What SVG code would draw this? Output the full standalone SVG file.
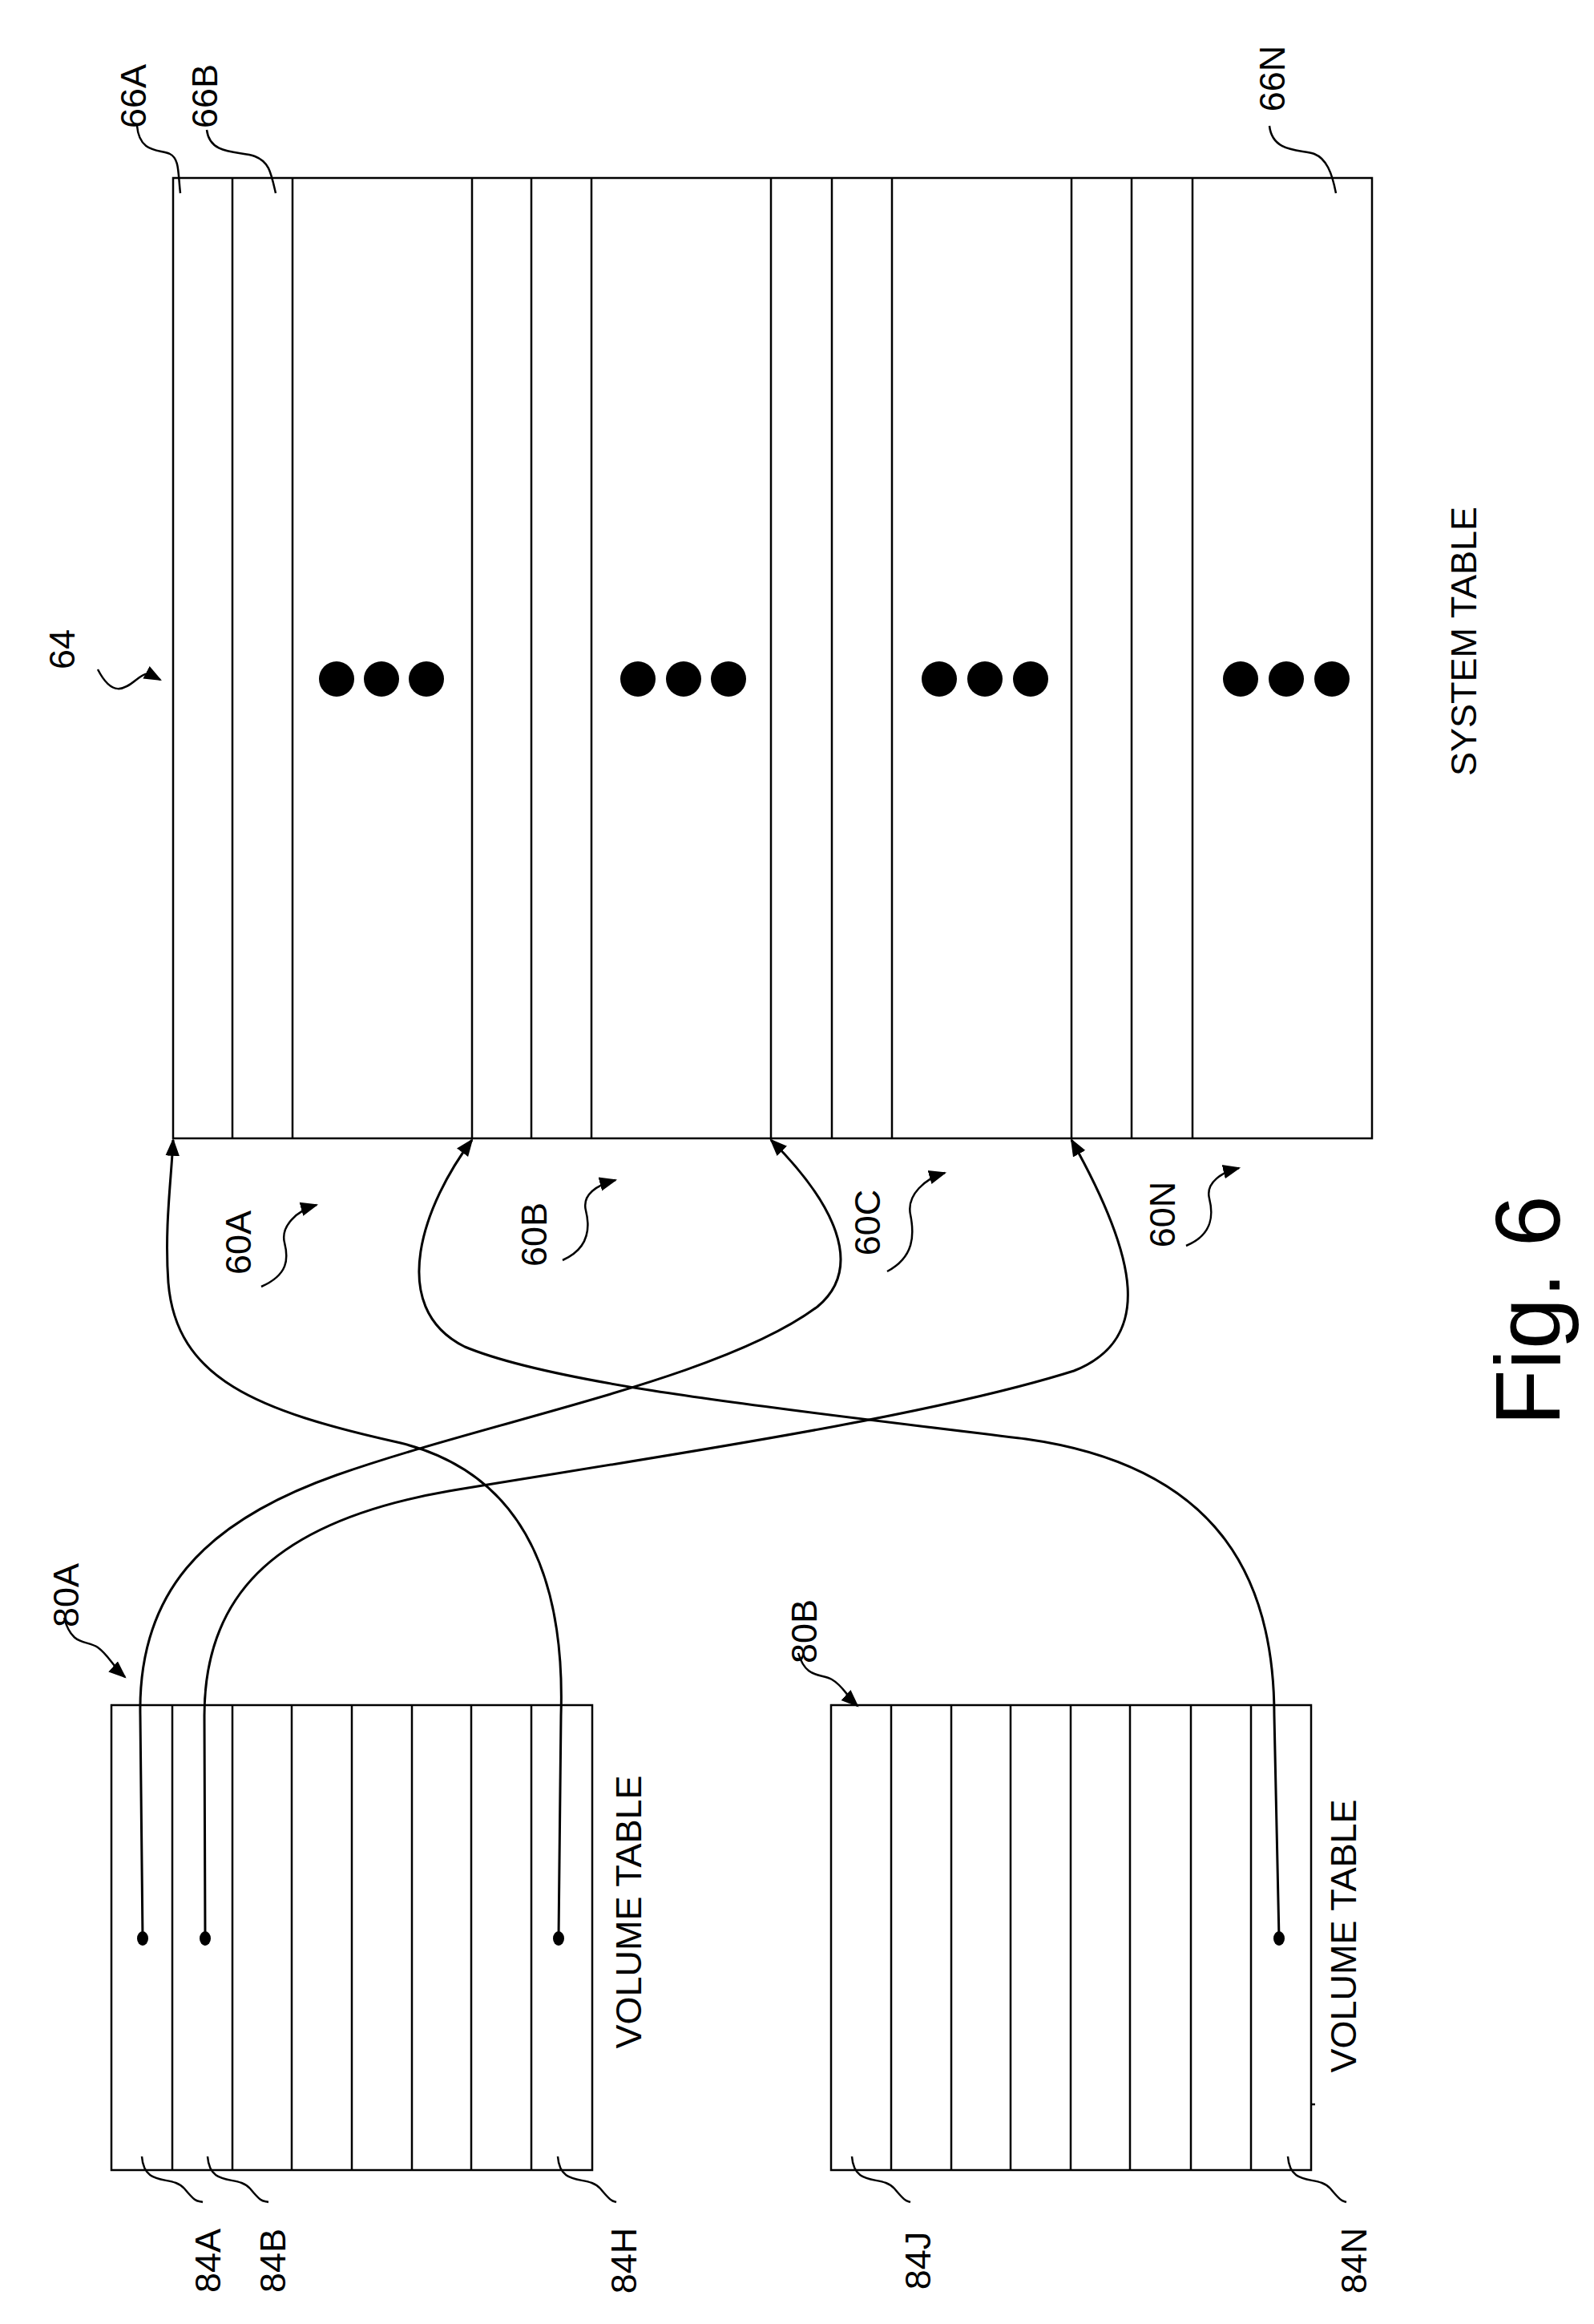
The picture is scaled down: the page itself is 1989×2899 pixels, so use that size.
<svg xmlns="http://www.w3.org/2000/svg" width="1989" height="2899" viewBox="0 0 1989 2899">
<style>
.ln{fill:none;stroke:#000;stroke-width:2.5}
.cv{fill:none;stroke:#000;stroke-width:3}
.t{font-family:"Liberation Sans",Arial,sans-serif;font-size:45px;fill:#000;text-anchor:middle;dominant-baseline:central}
.dot{fill:#000}
</style>
<defs>
<marker id="ah2" viewBox="0 0 10 10" refX="9" refY="5" markerWidth="22" markerHeight="22" markerUnits="userSpaceOnUse" orient="auto"><path d="M0,1L10,5L0,9z" fill="#000"/></marker>
</defs>
<rect width="1989" height="2899" fill="#fff"/>
<g id="system-table">
<rect class="ln" x="216" y="222" width="1496" height="1198"/>
<path class="ln" d="M290,222V1420M365,222V1420M589,222V1420M663,222V1420M738,222V1420M962,222V1420M1038,222V1420M1113,222V1420M1337,222V1420M1412,222V1420M1488,222V1420"/>
<g class="dot"><circle cx="420" cy="847" r="22"/><circle cx="476" cy="847" r="22"/><circle cx="532" cy="847" r="22"/><circle cx="796" cy="847" r="22"/><circle cx="853" cy="847" r="22"/><circle cx="909" cy="847" r="22"/><circle cx="1172" cy="847" r="22"/><circle cx="1229" cy="847" r="22"/><circle cx="1286" cy="847" r="22"/><circle cx="1548" cy="847" r="22"/><circle cx="1605" cy="847" r="22"/><circle cx="1662" cy="847" r="22"/></g>
<text class="t" transform="translate(1826,800) rotate(-90)">SYSTEM TABLE</text>
</g>
<g id="labels-66">
<text class="t" transform="translate(166,120) rotate(-90)">66A</text>
<text class="t" transform="translate(255,120) rotate(-90)">66B</text>
<text class="t" transform="translate(1587,98) rotate(-90)">66N</text>
<path class="ln" d="M171,157C174,192 200,186 212,192S222,215 225,241"/>
<path class="ln" d="M258,162C262,195 300,188 318,195S338,215 344,241"/>
<path class="ln" d="M1584,157C1588,192 1625,186 1640,192S1662,215 1667,241"/>
<text class="t" transform="translate(77,810) rotate(-90)">64</text>
<path class="ln" marker-end="url(#ah2)" d="M122,835C140,870 155,860 170,848S185,840 200,848"/>
</g>
<g id="volume-table-80A">
<rect class="ln" x="139" y="2127" width="600" height="580"/>
<path class="ln" d="M215,2127V2707M290,2127V2707M364,2127V2707M439,2127V2707M514,2127V2707M588,2127V2707M663,2127V2707"/>
<text class="t" transform="translate(784,2385) rotate(-90)">VOLUME TABLE</text>
<text class="t" transform="translate(82,1990) rotate(-90)">80A</text>
<path class="ln" marker-end="url(#ah2)" d="M80,2018C90,2055 108,2045 122,2055S140,2078 156,2092"/>
</g>
<g id="volume-table-80B">
<rect class="ln" x="1037" y="2127" width="599" height="580"/>
<path class="ln" d="M1112,2127V2707M1187,2127V2707M1261,2127V2707M1336,2127V2707M1410,2127V2707M1486,2127V2707M1561,2127V2707"/>
<text class="t" transform="translate(1676,2415) rotate(-90)">VOLUME TABLE</text>
<path class="ln" d="M1636,2625h5"/>
<text class="t" transform="translate(1003,2035) rotate(-90)">80B</text>
<path class="ln" marker-end="url(#ah2)" d="M996,2062C1006,2095 1024,2087 1038,2095S1056,2115 1070,2128"/>
</g>
<g id="labels-84">
<text class="t" transform="translate(259,2820) rotate(-90)">84A</text>
<text class="t" transform="translate(340,2820) rotate(-90)">84B</text>
<text class="t" transform="translate(778,2820) rotate(-90)">84H</text>
<text class="t" transform="translate(1145,2820) rotate(-90)">84J</text>
<text class="t" transform="translate(1689,2820) rotate(-90)">84N</text>
<path class="ln" d="M177,2690C180,2730 215,2712 230,2730S245,2745 253,2747"/>
<path class="ln" d="M259,2690C262,2730 297,2712 312,2730S327,2745 335,2747"/>
<path class="ln" d="M696,2690C699,2730 734,2712 749,2730S764,2745 769,2747"/>
<path class="ln" d="M1063,2690C1066,2730 1101,2712 1116,2730S1131,2745 1136,2747"/>
<path class="ln" d="M1607,2690C1610,2730 1645,2712 1660,2730S1675,2745 1680,2747"/>
</g>
<g id="labels-60">
<text class="t" transform="translate(297,1550) rotate(-90)">60A</text>
<text class="t" transform="translate(666,1540) rotate(-90)">60B</text>
<text class="t" transform="translate(1082,1525) rotate(-90)">60C</text>
<text class="t" transform="translate(1450,1515) rotate(-90)">60N</text>
<path class="ln" marker-end="url(#ah2)" d="M326,1605C360,1590 360,1570 355,1550S370,1510 395,1503"/>
<path class="ln" marker-end="url(#ah2)" d="M702,1572C736,1557 736,1530 731,1510S745,1478 768,1472"/>
<path class="ln" marker-end="url(#ah2)" d="M1107,1586C1141,1568 1141,1540 1136,1515S1155,1470 1179,1463"/>
<path class="ln" marker-end="url(#ah2)" d="M1480,1554C1514,1540 1514,1515 1509,1495S1525,1462 1546,1457"/>
</g>
<g id="connectors">
<g class="dot"><ellipse cx="178" cy="2418" rx="7" ry="9"/><ellipse cx="256" cy="2418" rx="7" ry="9"/><ellipse cx="697" cy="2418" rx="7" ry="9"/><ellipse cx="1596" cy="2418" rx="7" ry="9"/></g>
<path class="cv" marker-end="url(#ah2)" d="M178,2418L175,2140C172,1990 250,1900 420,1840C620,1770 900,1720 1020,1630C1080,1580 1040,1500 962,1422"/>
<path class="cv" marker-end="url(#ah2)" d="M256,2418L255,2140C255,2000 330,1900 560,1860C800,1820 1150,1770 1340,1710C1440,1670 1420,1570 1337,1422"/>
<path class="cv" marker-end="url(#ah2)" d="M697,2418L700,2140C705,1980 660,1840 500,1800C320,1760 220,1720 210,1600C205,1530 214,1470 216,1422"/>
<path class="cv" marker-end="url(#ah2)" d="M1596,2418L1590,2140C1590,1980 1530,1830 1280,1795C1000,1760 700,1730 580,1680C480,1630 530,1500 589,1422"/>
</g>
<text id="fig" font-family="Liberation Sans, Arial, sans-serif" font-size="115" text-anchor="middle" dominant-baseline="central" transform="translate(1906,1635) rotate(-90)">Fig. 6</text>
</svg>
